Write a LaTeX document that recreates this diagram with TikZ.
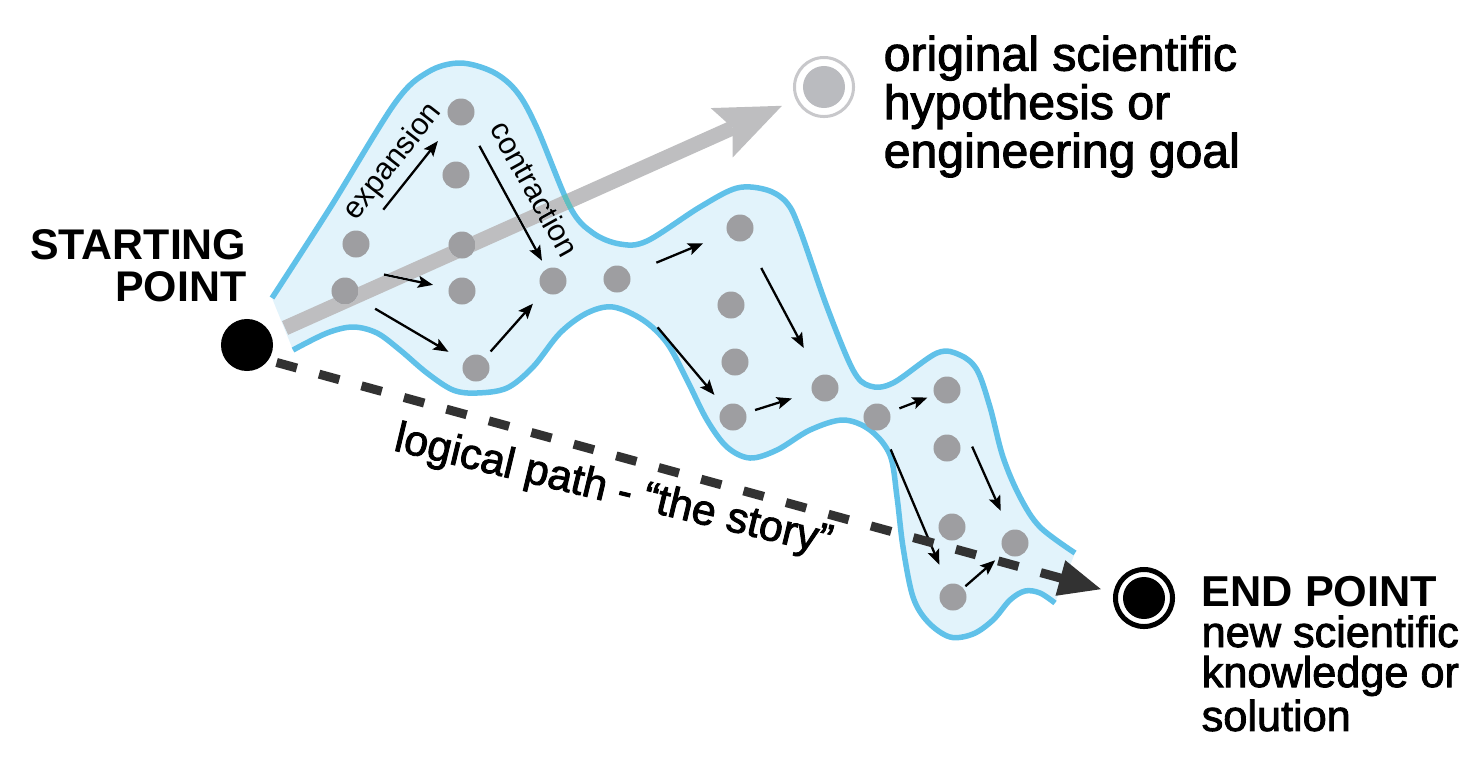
\documentclass[tikz,border=0pt]{standalone}
\usepackage{fontspec}
\setmainfont{Liberation Sans}
\newfontfamily\medfont[FakeBold=2]{Liberation Sans}
\usetikzlibrary{arrows.meta,calc}

\definecolor{blobblue}{RGB}{226,243,251}
\definecolor{edgeblue}{RGB}{96,193,233}
\definecolor{dotgray}{RGB}{158,158,161}
\definecolor{arrowgray}{RGB}{190,190,192}
\definecolor{ringgray}{RGB}{200,200,203}
\definecolor{goalgray}{RGB}{186,187,191}
\definecolor{storygray}{RGB}{50,50,50}

\newcommand\upperedge{plot[smooth, tension=0.55] coordinates {
    (272,298) (330,208) (395,103) (428,72) (460,63) (493,72) (517,92) (537,128)
    (570,207) (593,233) (620,244) (647,241) (700,207) (737,188) (767,190) (787,203)
    (800,230) (827,307) (853,370) (870,386) (893,383) (937,353) (960,355) (977,370)
    (990,407) (1003,457) (1020,497) (1040,527) (1075,553)}}
\newcommand\loweredge{-- plot[smooth, tension=0.55] coordinates {
    (1055,603) (1040,593) (1025,591) (1010,600) (993,620) (973,634) (950,637) (928,622)
    (913,597) (903,547) (897,497) (890,455) (870,430) (843,420) (810,430) (777,450)
    (750,458) (727,447) (707,420) (687,380) (667,343) (643,320) (613,307) (587,313)
    (560,333) (533,367) (507,388) (477,393) (453,390) (427,373) (400,350) (377,333)
    (353,327) (327,333) (293,350)}}

\begin{document}
\begin{tikzpicture}[
    x=0.01cm, y=-0.01cm,
    >={Stealth[length=1.5mm, width=1.2mm, inset=0.3mm]},
    blobline/.style={draw=edgeblue, line width=0.55mm},
    idea/.style={circle, fill=dotgray, minimum size=2.7mm, inner sep=0pt},
    flowarrow/.style={->, line width=0.65pt},
    startmark/.style={circle, fill=black, minimum size=5.2mm, inner sep=0pt},
    goalmark/.style={
        circle, draw=ringgray, line width=0.3mm, minimum size=5.9mm, inner sep=0pt,
        path picture={\fill[goalgray] (path picture bounding box.center) circle (2.1mm);}
    },
    endmark/.style={
        circle, draw=black, line width=0.5mm, minimum size=5.7mm, inner sep=0pt,
        path picture={\fill[black] (path picture bounding box.center) circle (2.1mm);}
    },
    goalarrow/.style={
        -{Stealth[length=6.6mm, width=5.4mm, inset=1.2mm, line width=0pt, fill=arrowgray]},
        draw=arrowgray, line width=1.5mm, blend mode=darken,
        shorten <=1.5mm, shorten >=1.5mm
    },
    storyarrow/.style={
        -{Triangle[length=4.3mm, width=3.4mm]},
        draw=storygray, line width=0.9mm, dash pattern=on 2.1mm off 2.3mm,
        shorten <=0.8mm, shorten >=1.2mm
    },
    headline/.style={font=\normalfont\bfseries\fontsize{12.2}{11.9}\selectfont, inner sep=0pt},
    note/.style={inner sep=0pt, align=left},
    sidetag/.style={font=\normalfont\fontsize{8.7}{10}\selectfont, inner sep=0pt}
]
\useasboundingbox (0,0) rectangle (1484,772);

\fill[blobblue] \upperedge \loweredge -- cycle;
\draw[blobline] \upperedge;
\draw[blobline] (1055,603) \loweredge;

\node[idea] (p1) at (356,244) {};
\node[idea] (p2) at (345,291) {};
\node[idea] (q1) at (461,112) {};
\node[idea] (q2) at (456,175) {};
\node[idea] (q3) at (462,245) {};
\node[idea] (q4) at (462,291) {};
\node[idea] (q5) at (476,368) {};
\node[idea] (m1) at (553,281) {};
\node[idea] (m2) at (617,279) {};
\node[idea] (r1) at (740,228) {};
\node[idea] (r2) at (731,305) {};
\node[idea] (r3) at (735,362) {};
\node[idea] (r4) at (733,417) {};
\node[idea] (n1) at (825,388) {};
\node[idea] (n2) at (877,417) {};
\node[idea] (s1) at (947,390) {};
\node[idea] (s2) at (947,448) {};
\node[idea] (s3) at (952,527) {};
\node[idea] (s4) at (1015,543) {};
\node[idea] (s5) at (953,597) {};

\coordinate (fork) at ($(p1)!0.5!(p2)$);
\draw[flowarrow] ($(p1)!0.26!(q1)$) -- ($(p1)!0.78!(q1)$);
\draw[flowarrow] ($(q1)!0.2!(m1)$) -- ($(q1)!0.88!(m1)$);
\draw[flowarrow] ($(fork)!0.3!(q4)$) -- ($(fork)!0.74!(q4)$);
\draw[flowarrow] ($(p2)!0.23!(q5)$) -- ($(p2)!0.79!(q5)$);
\draw[flowarrow] ($(q5)!0.19!(m1)$) -- ($(q5)!0.74!(m1)$);
\draw[flowarrow] ($(m2)!0.32!(r1)$) -- ($(m2)!0.7!(r1)$);
\draw[flowarrow] ($(m2)!0.35!(r4)$) -- ($(m2)!0.84!(r4)$);
\draw[flowarrow] ($(r1)!0.25!(n1)$) -- ($(r1)!0.75!(n1)$);
\draw[flowarrow] ($(r4)!0.24!(n1)$) -- ($(r4)!0.64!(n1)$);
\draw[flowarrow] ($(n2)!0.32!(s1)$) -- ($(n2)!0.72!(s1)$);
\draw[flowarrow] ($(n2)!0.18!(s5)$) -- ($(n2)!0.82!(s5)$);
\draw[flowarrow] ($(s1)!0.37!(s4)$) -- ($(s1)!0.79!(s4)$);
\draw[flowarrow] ($(s5)!0.2!(s4)$) -- ($(s5)!0.68!(s4)$);

\node[sidetag, rotate=52] (expandlabel) at (393,162) {expansion};
\node[sidetag, rotate=-61] (contractlabel) at (535,189) {contraction};

\node[startmark] (start) at (247,345) {};
\node[goalmark] (goal) at (824,87) {};
\node[endmark] (finish) at (1144,598) {};

\draw[goalarrow] (start) -- (goal);
\draw[storyarrow] (start.-35) -- (finish.170);

\node[headline, anchor=north east, align=right] (startlabel) at (247,229) {STARTING\\POINT};
\node[note, anchor=north west, font=\medfont\fontsize{13.7}{11.4}\selectfont] (goallabel) at (883,35)
    {original scientific\\hypothesis or\\engineering goal};
\node[note, anchor=north west, font=\medfont\fontsize{12.3}{11.4}\selectfont] (endlabel) at (1201,576)
    {{\normalfont\bfseries END POINT}\\new scientific\\knowledge or\\solution};
\node[inner sep=0pt, anchor=base west, rotate=-13.5, font=\medfont\fontsize{12.2}{13}\selectfont] (storylabel)
    at (392,450) {logical path - “the story”};
\end{tikzpicture}
\end{document}
